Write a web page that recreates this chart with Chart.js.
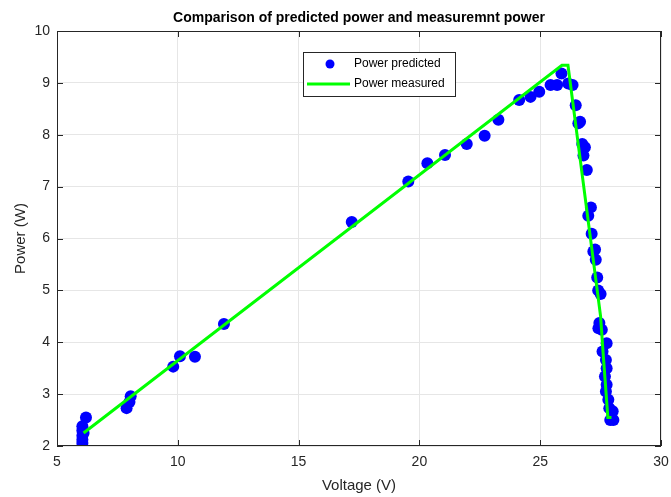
<!DOCTYPE html>
<html>
<head>
<meta charset="utf-8">
<script src="https://cdn.jsdelivr.net/npm/chart.js@4.4.1/dist/chart.umd.min.js"></script>
<style>
  html, body { margin: 0; padding: 0; background: #fff; }
  #wrap { width: 671px; height: 497px; }
</style>
</head>
<body>
<div id="wrap"><canvas id="chart-power"></canvas></div>
<script>
// predicted power (scatter)
const predVoltage = [6.05, 6.05, 6.05, 6.05, 6.05, 6.1, 6.2, 7.88, 8.0, 8.05,
  9.81, 10.09, 10.71, 11.91, 17.2, 19.54, 20.33, 21.06, 21.96, 22.7,
  23.27, 24.13, 24.6, 24.96, 25.43, 25.7, 25.88, 26.16, 26.34, 26.47,
  26.65, 26.58, 26.74, 26.85, 26.79, 26.93, 27.1, 26.99, 27.13, 27.27,
  27.2, 27.3, 27.36, 27.4, 27.5, 27.45, 27.55, 27.41, 27.75, 27.58,
  27.72, 27.75, 27.68, 27.75, 27.72, 27.82, 27.86, 28.0, 27.9, 28.03];
const predPower = [2.38, 2.3, 2.2, 2.12, 2.06, 2.25, 2.55, 2.73, 2.85, 2.96,
  3.53, 3.73, 3.72, 4.35, 6.32, 7.1, 7.45, 7.61, 7.82, 7.98,
  8.29, 8.67, 8.73, 8.83, 8.96, 8.96, 9.18, 8.99, 8.96, 8.57,
  8.25, 8.22, 7.82, 7.76, 7.6, 7.32, 6.6, 6.44, 6.09, 5.79,
  5.75, 5.59, 5.25, 5.0, 4.93, 4.37, 4.24, 4.27, 3.98, 3.82,
  3.66, 3.5, 3.34, 3.18, 3.05, 2.89, 2.73, 2.67, 2.5, 2.5];

// measured power (line)
const measVoltage = [6.1, 25.9, 26.15, 27.5, 27.6, 27.8, 27.95];
const measPower = [2.25, 9.34, 9.34, 4.5, 3.82, 2.55, 2.55];

const xTicks = [5, 10, 15, 20, 25, 30];
const yTicks = [2, 3, 4, 5, 6, 7, 8, 9, 10];

const axisColor = '#262626';
const fontFamily = '"Liberation Sans", Arial, sans-serif';

const toPoints = (xs, ys) => xs.map((x, i) => ({ x, y: ys[i] }));

// matlab-style frame, inward ticks, title and legend box
const matlabFrame = {
  id: 'matlabFrame',
  afterDraw(chart) {
    const { ctx, chartArea: a, scales } = chart;
    ctx.save();
    ctx.strokeStyle = axisColor;
    ctx.lineWidth = 1;
    ctx.strokeRect(a.left + 0.5, a.top + 0.5, a.right - a.left - 1, a.bottom - a.top - 1);
    ctx.beginPath();
    xTicks.forEach((t) => {
      const px = Math.round(scales.x.getPixelForValue(t)) + 0.5;
      ctx.moveTo(px, a.bottom); ctx.lineTo(px, a.bottom - 6);
      ctx.moveTo(px, a.top); ctx.lineTo(px, a.top + 6);
    });
    yTicks.forEach((t) => {
      const py = Math.round(scales.y.getPixelForValue(t)) + 0.5;
      ctx.moveTo(a.left, py); ctx.lineTo(a.left + 6, py);
      ctx.moveTo(a.right, py); ctx.lineTo(a.right - 6, py);
    });
    ctx.stroke();

    ctx.fillStyle = '#000';
    ctx.font = `bold 14px ${fontFamily}`;
    ctx.textAlign = 'center';
    ctx.textBaseline = 'middle';
    ctx.fillText('Comparison of predicted power and measuremnt power', (a.left + a.right) / 2, 18);

    // legend
    const lx = 303, ly = 52, lw = 152, lh = 44;
    ctx.fillStyle = '#fff';
    ctx.fillRect(lx, ly, lw, lh);
    ctx.strokeStyle = '#262626';
    ctx.strokeRect(lx + 0.5, ly + 0.5, lw, lh);
    ctx.fillStyle = '#0000ff';
    ctx.beginPath();
    ctx.arc(lx + 27, ly + 12, 4.5, 0, Math.PI * 2);
    ctx.fill();
    ctx.strokeStyle = '#00ff00';
    ctx.lineWidth = 3;
    ctx.beginPath();
    ctx.moveTo(lx + 4, ly + 32); ctx.lineTo(lx + 47, ly + 32);
    ctx.stroke();
    ctx.fillStyle = '#000';
    ctx.font = `12px ${fontFamily}`;
    ctx.textAlign = 'left';
    ctx.fillText('Power predicted', lx + 51, ly + 12);
    ctx.fillText('Power measured', lx + 51, ly + 32);
    ctx.restore();
  },
};

const ctx = document.getElementById('chart-power').getContext('2d');
new Chart(ctx, {
  type: 'scatter',
  data: {
    datasets: [
      {
        label: 'Power predicted',
        data: toPoints(predVoltage, predPower),
        backgroundColor: '#0000ff',
        borderColor: '#0000ff',
        pointRadius: 6,
        pointBorderWidth: 0,
        order: 2,
      },
      {
        label: 'Power measured',
        type: 'line',
        data: toPoints(measVoltage, measPower),
        borderColor: '#00ff00',
        borderWidth: 3,
        pointRadius: 0,
        fill: false,
        tension: 0,
        order: 1,
      },
    ],
  },
  options: {
    responsive: true,
    maintainAspectRatio: false,
    animation: false,
    layout: { padding: { top: 31, right: 10, left: 0, bottom: 0 } },
    plugins: {
      legend: { display: false },
      tooltip: { enabled: false },
      title: { display: false },
    },
    scales: {
      x: {
        type: 'linear',
        min: 5,
        max: 30,
        afterBuildTicks: (scale) => { scale.ticks = xTicks.map((v) => ({ value: v })); },
        afterFit: (scale) => {
          scale.height = 51;
          scale.paddingLeft = 0;
          scale.paddingRight = 0;
        },
        ticks: { color: axisColor, font: { size: 14, family: fontFamily }, padding: 8 },
        grid: { color: '#e6e6e6', drawTicks: false },
        border: { display: false },
        title: { display: true, text: 'Voltage (V)', color: axisColor, font: { size: 15, family: fontFamily }, padding: { top: 3, bottom: 2 } },
      },
      y: {
        min: 2,
        max: 10,
        afterBuildTicks: (scale) => { scale.ticks = yTicks.map((v) => ({ value: v })); },
        afterFit: (scale) => {
          scale.width = 57;
          scale.paddingTop = 0;
          scale.paddingBottom = 0;
        },
        ticks: { color: axisColor, font: { size: 14, family: fontFamily }, padding: 7 },
        grid: { color: '#e6e6e6', drawTicks: false },
        border: { display: false },
        title: { display: true, text: 'Power (W)', color: axisColor, font: { size: 15, family: fontFamily }, padding: { top: 12, bottom: 4 } },
      },
    },
  },
  plugins: [matlabFrame],
});
</script>
</body>
</html>
